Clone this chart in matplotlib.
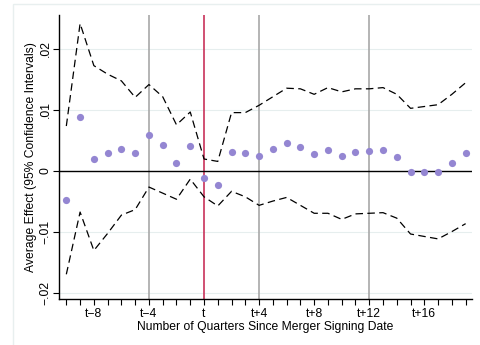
import matplotlib
matplotlib.use("Agg")
import matplotlib.pyplot as plt
from matplotlib.patches import Rectangle

plt.rcParams['font.family'] = ['Liberation Sans', 'DejaVu Sans']

quarters = list(range(-10, 20))
effect = [-0.0048, 0.0087, 0.0019, 0.0028, 0.0035, 0.0029, 0.0058, 0.0042, 0.0013, 0.0040,
          -0.0012, -0.0023, 0.0031, 0.0028, 0.0024, 0.0035, 0.0046, 0.0039, 0.0027, 0.0033,
          0.0024, 0.0031, 0.0032, 0.0033, 0.0023, -0.0002, -0.0002, -0.0002, 0.0012, 0.0028]
upper = [0.0073, 0.0241, 0.0172, 0.0158, 0.0147, 0.0120, 0.0141, 0.0121, 0.0075, 0.0096,
         0.0019, 0.0015, 0.0095, 0.0095, 0.0107, 0.0121, 0.0135, 0.0134, 0.0125, 0.0136,
         0.0129, 0.0134, 0.0134, 0.0136, 0.0125, 0.0102, 0.0105, 0.0108, 0.0125, 0.0144]
lower = [-0.0170, -0.0068, -0.0131, -0.0103, -0.0073, -0.0064, -0.0027, -0.0037, -0.0047, -0.0014,
         -0.0043, -0.0058, -0.0034, -0.0043, -0.0057, -0.0050, -0.0044, -0.0057, -0.0070, -0.0070,
         -0.0080, -0.0071, -0.0070, -0.0069, -0.0078, -0.0104, -0.0108, -0.0112, -0.0100, -0.0087]

xtick_pos = [-8, -4, 0, 4, 8, 12, 16]
xtick_labels = ["t\u22128", "t\u22124", "t", "t+4", "t+8", "t+12", "t+16"]
ytick_pos = [-0.02, -0.01, 0, 0.01, 0.02]
ytick_labels = ["\u2212.02", "\u2212.01", "0", ".01", ".02"]
gray_lines = [-4, 4, 12]
red_line = 0

fig = plt.figure(figsize=(4.81, 3.45), dpi=100)
fig.patches.append(Rectangle((13/481, -0.01), 1.0, (345-4)/345 + 0.01, transform=fig.transFigure,
                             facecolor='none', edgecolor='#e8efef', lw=1.0))
ax = fig.add_axes([59.3/481, (345-299.3)/345, (471.7-59.3)/481, (299.3-15)/345])

ax.set_xlim(-10.51, 19.44)
ax.set_ylim(-0.0211, 0.0255)

for y in [-0.02, -0.01, 0.01, 0.02]:
    ax.axhline(y, color='#e6eeee', lw=0.8, zorder=0)
ax.axhline(0, color='black', lw=1.0, zorder=2)
for g in gray_lines:
    ax.axvline(g, color='#a8a8a8', lw=1.2, zorder=1)
ax.axvline(red_line, color='#c8325a', lw=1.2, zorder=1)

ax.plot(quarters, upper, color='black', lw=0.9, dashes=(6, 3.5), zorder=3)
ax.plot(quarters, lower, color='black', lw=0.9, dashes=(6, 3.5), zorder=3)
ax.plot(quarters, effect, 'o', color='#9486d2', markersize=5.2, markeredgewidth=0, zorder=4)

ax.spines['top'].set_visible(False)
ax.spines['right'].set_visible(False)
ax.spines['left'].set_linewidth(1.0)
ax.spines['bottom'].set_linewidth(1.0)

ax.set_xticks(quarters, minor=True)
ax.set_xticks(xtick_pos)
ax.set_xticklabels(xtick_labels, fontsize=8.7)
ax.tick_params(axis='x', which='both', length=4, width=0.8, pad=2)
ax.set_yticks(ytick_pos)
ax.set_yticklabels(ytick_labels, fontsize=8.7, rotation=90, va='center')
ax.tick_params(axis='y', length=4, width=0.8, pad=1.5)

ax.set_xlabel("Number of Quarters Since Merger Signing Date", fontsize=8.7, labelpad=1)
ax.set_ylabel("Average Effect (95% Confidence Intervals)", fontsize=8.7)
ax.yaxis.set_label_coords(-0.053, 0.5)

fig.savefig("out.png", dpi=100)
